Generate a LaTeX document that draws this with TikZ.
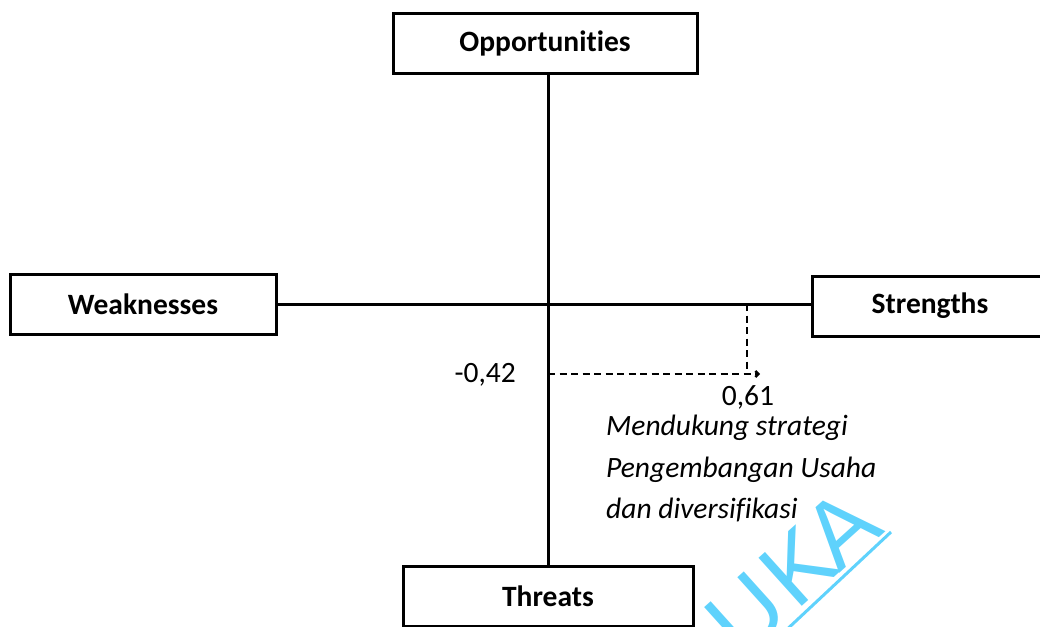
\documentclass[tikz,border=0pt]{standalone}
\usepackage{fontspec}
\setmainfont{Carlito}[RawFeature=-liga]
\newfontfamily\wmfont{Liberation Sans}[LetterSpace=6]
\usetikzlibrary{arrows.meta}
\definecolor{wmcyan}{RGB}{95,210,252}
\tikzset{
  quadbox/.style={draw=black, line width=3pt, fill=white, inner sep=0pt,
    font=\bfseries\fontsize{29.5}{34}\selectfont},
  axis/.style={line width=3pt},
  guide/.style={line width=2.4pt, dash pattern=on 7pt off 4.5pt},
  lbl/.style={font=\fontsize{29.5}{34}\selectfont, inner sep=0pt},
  note/.style={font=\itshape\fontsize{29.5}{34}\selectfont, inner sep=0pt, anchor=base west},
}
\begin{document}
\begin{tikzpicture}[x=1pt,y=-1pt]
\useasboundingbox (0,0) rectangle (1040,626);
\clip (0,0) rectangle (1040,626);
% watermark
\node[text=wmcyan, rotate=42, inner sep=0pt, anchor=base east,
  font=\wmfont\fontsize{94}{94}\selectfont] (wm) at (886,531) {UK\kern-5.6pt A};
\coordinate (ulA) at (782,634);
\coordinate (ulB) at (891,532);
\draw[wmcyan, line width=3pt] (ulA) -- (ulB);
% axes
\coordinate (c) at (548,304);
\node[quadbox, minimum width=304pt, minimum height=59pt] (opp) at (545,43.5) {\raisebox{-1.5pt}{Opportunities}};
\node[quadbox, minimum width=266pt, minimum height=60pt] (weak) at (143,304) {Weaknesses};
\node[quadbox, minimum width=236pt, minimum height=60pt] (str) at (930,306) {Strengths};
\node[quadbox, minimum width=290pt, minimum height=60pt] (thr) at (548,596) {Threats};
\draw[axis] (c |- opp.south) -- (c |- thr.north);
\draw[axis] (weak.east) -- (weak.east -| str.west);
% guides
\coordinate (sx) at (747,304);
\coordinate (sxe) at (747,374);
\coordinate (wy) at (548,374);
\coordinate (wye) at (760,374);
\draw[guide] (sx) -- (sxe);
\draw[guide, -{Straight Barb[length=3pt,width=6pt]}] (wy) -- (wye);
% labels
\node[lbl, anchor=east] (vw) at (516,375) {-0,42};
\node[lbl] (vs) at (748,397) {0,61};
\node[note] (n1) at (606,435) {Mendukung strategi};
\node[note] (n2) at (606,477) {Pengembangan Usaha};
\node[note] (n3) at (606,518) {dan diversifikasi};
\end{tikzpicture}
\end{document}
